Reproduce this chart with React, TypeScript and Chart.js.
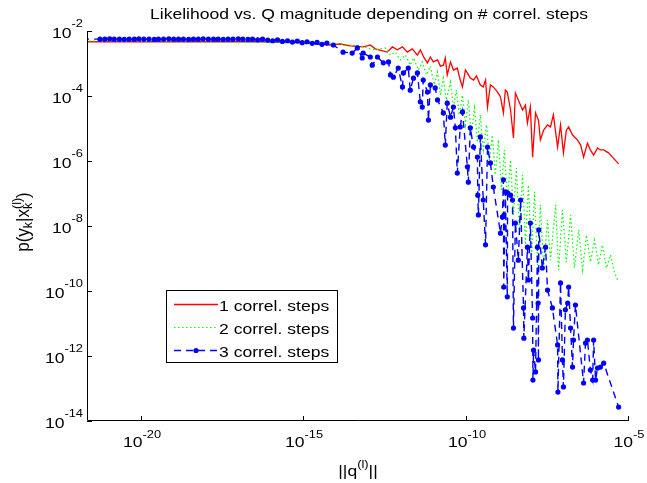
import React, { useEffect, useRef } from "react";
import { Chart, registerables } from "chart.js";

Chart.register(...registerables);

// ---------------- data (log10 values) ----------------
const TITLE = "Likelihood vs. Q magnitude depending on # correl. steps";
const SERIES_NAMES = ["1 correl. steps", "2 correl. steps", "3 correl. steps"];
const X_TICK_EXPONENTS = [-20, -15, -10, -5];
const Y_TICK_EXPONENTS = [-2, -4, -6, -8, -10, -12, -14];
const X_RANGE_EXP = [-21.7, -5];
const Y_RANGE_EXP = [-14, -2];

// 1 correl. step (red)
const redLogQ = [
  -21.75, -18.21, -16.36, -15.44, -14.82, -14.2, -13.9, -13.59, -13.19, -12.97, -12.82, -12.45,
  -12.29, -12.14, -11.98, -11.83, -11.68, -11.52, -11.43, -11.31, -11.21, -11.12, -11.03, -10.9,
  -10.81, -10.72, -10.66, -10.6, -10.5, -10.41, -10.29, -10.2, -10.13, -10.04, -9.98, -9.89,
  -9.79, -9.7, -9.58, -9.49, -9.42, -9.36, -9.27, -9.18, -9.05, -8.96, -8.87, -8.81, -8.75,
  -8.65, -8.56, -8.5, -8.41, -8.28, -8.19, -8.13, -8.04, -7.97, -7.88, -7.79, -7.73, -7.63,
  -7.51, -7.42, -7.33, -7.2, -7.11, -7.02, -6.93, -6.86, -6.74, -6.59, -6.49, -6.4, -6.28,
  -6.19, -6.09, -5.97, -5.88, -5.78, -5.63, -5.48, -5.32,
];
const redLogP = [
  -2.33, -2.33, -2.33, -2.35, -2.37, -2.43, -2.4, -2.46, -2.49, -2.43, -2.55, -2.65,
  -2.49, -2.58, -2.49, -2.65, -2.55, -2.74, -2.58, -2.83, -2.98, -2.8, -2.95, -2.89,
  -3.08, -3.05, -2.83, -3.35, -2.95, -3.2, -3.14, -3.51, -3.72, -3.2, -3.29, -3.45,
  -3.51, -3.38, -3.66, -3.72, -3.51, -4.34, -3.66, -3.72, -3.88, -4.03, -4.52, -3.82, -3.88,
  -4.43, -5.29, -3.91, -4.12, -4.43, -4.28, -4.83, -4.34, -5.88, -4.52, -4.74, -5.35, -5.05,
  -4.89, -4.95, -4.58, -5.57, -4.89, -5.75, -5.05, -4.95, -5.2, -5.35, -5.51, -5.88, -5.45,
  -5.66, -5.82, -5.6, -5.66, -5.66, -5.75, -5.91, -6.09,
];

// 2 correl. steps (green)
const greenLogQ = [
  -21.75, -14.2, -13.28, -12.82, -12.51, -12.35, -12.2, -12.05, -11.89, -11.74, -11.64, -11.49,
  -11.37, -11.24, -11.12, -11.0, -10.9, -10.81, -10.72, -10.63, -10.5, -10.41, -10.32, -10.23,
  -10.13, -10.04, -9.95, -9.86, -9.76, -9.67, -9.58, -9.49, -9.39, -9.3, -9.21, -9.12, -9.02,
  -8.93, -8.84, -8.75, -8.65, -8.56, -8.47, -8.38, -8.28, -8.19, -8.1, -8.0, -7.91, -7.82,
  -7.73, -7.63, -7.51, -7.42, -7.26, -7.17, -7.05, -6.93, -6.8, -6.68, -6.55, -6.43, -6.31,
  -6.19, -6.06, -5.94, -5.82, -5.69, -5.57, -5.45, -5.35,
];
const greenLogP = [
  -2.31, -2.37, -2.46, -2.58, -2.52, -2.74, -2.65, -2.89, -2.74, -3.05, -2.83, -3.2,
  -2.95, -3.35, -3.08, -3.66, -3.26, -3.97, -3.45, -4.12, -3.57, -4.37, -3.82, -4.58,
  -3.97, -4.89, -4.12, -5.2, -4.37, -5.42, -4.58, -5.66, -4.89, -5.97, -5.2, -6.43, -5.35,
  -6.89, -5.66, -7.2, -5.97, -7.66, -6.22, -8.12, -6.43, -8.58, -6.74, -8.89, -6.95, -9.2,
  -7.35, -9.29, -7.82, -9.05, -7.35, -9.35, -7.51, -9.11, -7.66, -9.29, -8.12, -9.35, -8.28,
  -9.11, -8.43, -9.2, -8.58, -9.29, -8.89, -9.42, -9.66,
];

// 3 correl. steps (blue)
const blueLogQ = [
  -21.85, -21.3, -21.15, -21.0, -20.86, -20.7, -20.55, -20.4, -20.24, -20.1, -19.95, -19.79,
  -19.63, -19.5, -19.34, -19.18, -19.03, -18.88, -18.73, -18.57, -18.42, -18.27, -18.12, -17.96,
  -17.8, -17.66, -17.5, -17.35, -17.2, -17.04, -16.9, -16.74, -16.6, -16.44, -16.29, -16.13,
  -15.98, -15.83, -15.68, -15.52, -15.37, -15.22, -15.07, -14.92, -14.76, -14.61, -14.46, -14.31,
  -14.11, -13.81, -13.53, -13.37, -13.22, -13.19, -12.97, -12.91, -12.75, -12.57, -12.41, -12.35,
  -12.26, -12.11, -11.98, -11.95, -11.8, -11.74, -11.64, -11.52, -11.43, -11.37, -11.34, -11.21,
  -11.18, -11.12, -10.97, -10.9, -10.72, -10.66, -10.6, -10.5, -10.41, -10.35, -10.29, -10.2,
  -10.13, -9.98, -9.95, -9.89, -9.79, -9.67, -9.66, -9.64, -9.58, -9.49, -9.42, -9.36, -9.27,
  -9.18, -8.96, -8.9, -8.87, -8.86, -8.81, -8.75, -8.74, -8.65, -8.59, -8.56, -8.5, -8.41,
  -8.34, -8.25, -8.24, -8.13, -8.1, -8.04, -7.97, -7.96, -7.94, -7.88, -7.82, -7.8, -7.79,
  -7.78, -7.67, -7.57, -7.51, -7.36, -7.2, -7.19, -7.11, -7.05, -7.02, -6.96, -6.89, -6.86,
  -6.8, -6.74, -6.71, -6.65, -6.4, -6.34, -6.28, -6.19, -6.12, -6.09, -6.03, -5.97, -5.88,
  -5.78, -5.32,
];
const blueLogP = [
  -2.25, -2.25, -2.25, -2.24, -2.25, -2.25, -2.26, -2.25, -2.25, -2.24, -2.25, -2.25,
  -2.26, -2.25, -2.25, -2.24, -2.25, -2.25, -2.25, -2.26, -2.25, -2.25, -2.24, -2.25,
  -2.25, -2.25, -2.26, -2.25, -2.25, -2.24, -2.25, -2.26, -2.25, -2.27, -2.25, -2.28,
  -2.3, -2.27, -2.32, -2.3, -2.34, -2.31, -2.36, -2.33, -2.38, -2.35, -2.41, -2.37,
  -2.43, -2.65, -2.68, -2.52, -2.83, -2.68, -2.8, -3.05, -2.8, -2.98, -2.95, -3.35,
  -3.42, -3.14, -3.72, -3.29, -3.14, -3.82, -3.45, -3.29, -4.18, -4.34, -3.51, -3.88,
  -4.74, -3.66, -3.75, -4.12, -4.52, -5.51, -4.22, -4.65, -4.34, -4.98, -6.37, -4.95,
  -4.49, -6.18, -6.65, -4.98, -5.57, -5.88, -7.05, -7.66, -5.26, -7.2, -8.58, -5.57, -6.06,
  -6.8, -8.22, -7.72, -6.58, -9.88, -6.95, -10.18, -6.98, -7.05, -7.2, -11.14, -7.91, -9.05,
  -7.2, -10.52, -11.45, -8.65, -9.66, -7.91, -10.83, -12.74, -11.82, -12.49, -8.65, -10.37, -12.12,
  -8.12, -9.29, -8.65, -9.97, -10.52, -11.66, -13.11, -9.75, -12.12, -12.95, -10.58, -10.37, -9.88,
  -11.14, -12.34, -11.51, -10.43, -12.83, -11.6, -11.51, -12.43, -12.74, -11.51, -12.74, -12.37, -12.34,
  -12.22, -13.57,
];

// ---------------- drawing helpers ----------------
const FONT = '"Liberation Sans", Arial, Helvetica, sans-serif';
const SX = 1.17;

type Run = { t: string; size: number; dy: number; stack?: boolean };

function drawRuns(
  ctx: CanvasRenderingContext2D,
  runs: Run[],
  x: number,
  y: number,
  align: "center" | "right" | "left",
  sx: number,
  sy: number
) {
  const widths = runs.map((r) => {
    ctx.font = `${r.size}px ${FONT}`;
    return ctx.measureText(r.t).width;
  });
  const pos: number[] = [];
  let cur = 0;
  let lastStart = 0;
  let lastW = 0;
  runs.forEach((r, i) => {
    if (r.stack) {
      pos[i] = lastStart;
      lastW = Math.max(lastW, widths[i]);
      cur = lastStart + lastW;
    } else {
      pos[i] = cur;
      lastStart = cur;
      lastW = widths[i];
      cur += widths[i];
    }
  });
  const total = cur;
  const off = align === "center" ? -total / 2 : align === "right" ? -total : 0;
  ctx.save();
  ctx.translate(x, y);
  ctx.scale(sx, sy);
  ctx.textAlign = "left";
  ctx.textBaseline = "alphabetic";
  ctx.fillStyle = "#000";
  runs.forEach((r, i) => {
    ctx.font = `${r.size}px ${FONT}`;
    ctx.fillText(r.t, pos[i] + off, r.dy);
  });
  ctx.restore();
}

const decorPlugin = {
  id: "matlabDecor",
  afterDraw(chart: any) {
    const ctx: CanvasRenderingContext2D = chart.ctx;
    const { left, right, top, bottom } = chart.chartArea;
    const xs = chart.scales.x;
    const ys = chart.scales.y;
    ctx.save();
    // axes lines (box off)
    ctx.strokeStyle = "#000";
    ctx.lineWidth = 1;
    ctx.setLineDash([]);
    ctx.beginPath();
    ctx.moveTo(left + 0.5, top);
    ctx.lineTo(left + 0.5, bottom - 0.5);
    ctx.lineTo(right, bottom - 0.5);
    ctx.stroke();
    // y ticks
    Y_TICK_EXPONENTS.forEach((e) => {
      const py = Math.round(ys.getPixelForValue(Math.pow(10, e)));
      ctx.beginPath();
      ctx.moveTo(left, py + 0.5);
      ctx.lineTo(left + 5, py + 0.5);
      ctx.stroke();
      drawRuns(
        ctx,
        [
          { t: "10", size: 15, dy: 0 },
          { t: "-" + Math.abs(e), size: 11, dy: -11 },
        ],
        left - 4,
        py + 7,
        "right",
        SX,
        1
      );
    });
    // x ticks
    X_TICK_EXPONENTS.forEach((e) => {
      const px = Math.round(xs.getPixelForValue(Math.pow(10, e)));
      ctx.beginPath();
      ctx.moveTo(px - 0.5, bottom);
      ctx.lineTo(px - 0.5, bottom - 5);
      ctx.stroke();
      drawRuns(
        ctx,
        [
          { t: "10", size: 15, dy: 0 },
          { t: "-" + Math.abs(e), size: 11, dy: -9 },
        ],
        px,
        bottom + 26,
        "center",
        SX,
        1
      );
    });
    // title
    drawRuns(ctx, [{ t: TITLE, size: 15, dy: 0 }], 369, 19, "center", SX, 1);
    // x label
    drawRuns(
      ctx,
      [
        { t: "||q", size: 15, dy: 0 },
        { t: "(l)", size: 11, dy: -8 },
        { t: "||", size: 15, dy: 0 },
      ],
      (left + right) / 2,
      476,
      "center",
      SX,
      1
    );
    // y label (rotated)
    ctx.save();
    ctx.translate(29, 222);
    ctx.rotate(-Math.PI / 2);
    drawRuns(
      ctx,
      [
        { t: "p(y", size: 17, dy: 0 },
        { t: "k", size: 12.5, dy: 3 },
        { t: "|x", size: 17, dy: 0 },
        { t: "k", size: 12.5, dy: 3 },
        { t: "(l)", size: 12.5, dy: -8, stack: true },
        { t: ")", size: 17, dy: 0 },
      ],
      0,
      0,
      "center",
      1,
      1.05
    );
    ctx.restore();

    // legend
    const lx = 166, ly = 290, lw = 172, lh = 73;
    ctx.fillStyle = "#fff";
    ctx.fillRect(lx, ly, lw, lh);
    ctx.strokeStyle = "#000";
    ctx.lineWidth = 1;
    ctx.setLineDash([]);
    ctx.strokeRect(lx + 0.5, ly + 0.5, lw - 1, lh - 1);
    const rows = [304.5, 327.5, 350.5];
    const styles = [
      { c: "#ff0000", dash: [] as number[], w: 1.3, dot: false },
      { c: "#00ff00", dash: [1.5, 2.5], w: 1.2, dot: false },
      { c: "#0000ff", dash: [7, 5], w: 1.3, dot: true },
    ];
    rows.forEach((ry, i) => {
      const s = styles[i];
      ctx.strokeStyle = s.c;
      ctx.lineWidth = s.w;
      ctx.setLineDash(s.dash);
      ctx.beginPath();
      ctx.moveTo(174, ry);
      ctx.lineTo(218, ry);
      ctx.stroke();
      ctx.setLineDash([]);
      if (s.dot) {
        ctx.fillStyle = s.c;
        ctx.beginPath();
        ctx.arc(196, ry, 2.6, 0, Math.PI * 2);
        ctx.fill();
      }
      drawRuns(ctx, [{ t: SERIES_NAMES[i], size: 15, dy: 0 }], 219, ry + 6, "left", SX, 1);
    });
    ctx.restore();
  },
};

function toPoints(qs: number[], ps: number[]) {
  return qs.map((q, i) => ({ x: Math.pow(10, q), y: Math.pow(10, ps[i]) }));
}

export default function App() {
  const ref = useRef<HTMLCanvasElement>(null);
  useEffect(() => {
    document.body.style.margin = "0";
    const chart = new Chart(ref.current as HTMLCanvasElement, {
      type: "line",
      data: {
        datasets: [
          {
            label: SERIES_NAMES[0],
            data: toPoints(redLogQ, redLogP),
            borderColor: "#ff0000",
            borderWidth: 1.3,
            pointRadius: 0,
            order: 3,
          },
          {
            label: SERIES_NAMES[1],
            data: toPoints(greenLogQ, greenLogP),
            borderColor: "#00ff00",
            borderWidth: 1.2,
            borderDash: [1.5, 2.5],
            pointRadius: 0,
            order: 2,
          },
          {
            label: SERIES_NAMES[2],
            data: toPoints(blueLogQ, blueLogP),
            borderColor: "#0000ff",
            borderWidth: 1.4,
            borderDash: [7, 5],
            pointRadius: 2.6,
            pointBorderWidth: 0,
            pointBackgroundColor: "#0000ff",
            order: 1,
          },
        ],
      } as any,
      options: {
        animation: false,
        responsive: false,
        devicePixelRatio: 1,
        layout: { padding: { left: 87, top: 31, right: 18, bottom: 62 } },
        elements: { line: { tension: 0 } },
        plugins: {
          legend: { display: false },
          title: { display: false },
          tooltip: { enabled: false },
        },
        scales: {
          x: {
            type: "logarithmic",
            min: Math.pow(10, X_RANGE_EXP[0]),
            max: Math.pow(10, X_RANGE_EXP[1]),
            display: false,
          },
          y: {
            type: "logarithmic",
            min: Math.pow(10, Y_RANGE_EXP[0]),
            max: Math.pow(10, Y_RANGE_EXP[1]),
            display: false,
          },
        },
      } as any,
      plugins: [decorPlugin],
    });
    return () => chart.destroy();
  }, []);
  return (
    <div style={{ position: "fixed", left: 0, top: 0, width: 647, height: 483, background: "#fff" }}>
      <canvas ref={ref} width={647} height={483} style={{ display: "block", width: 647, height: 483 }} />
    </div>
  );
}
